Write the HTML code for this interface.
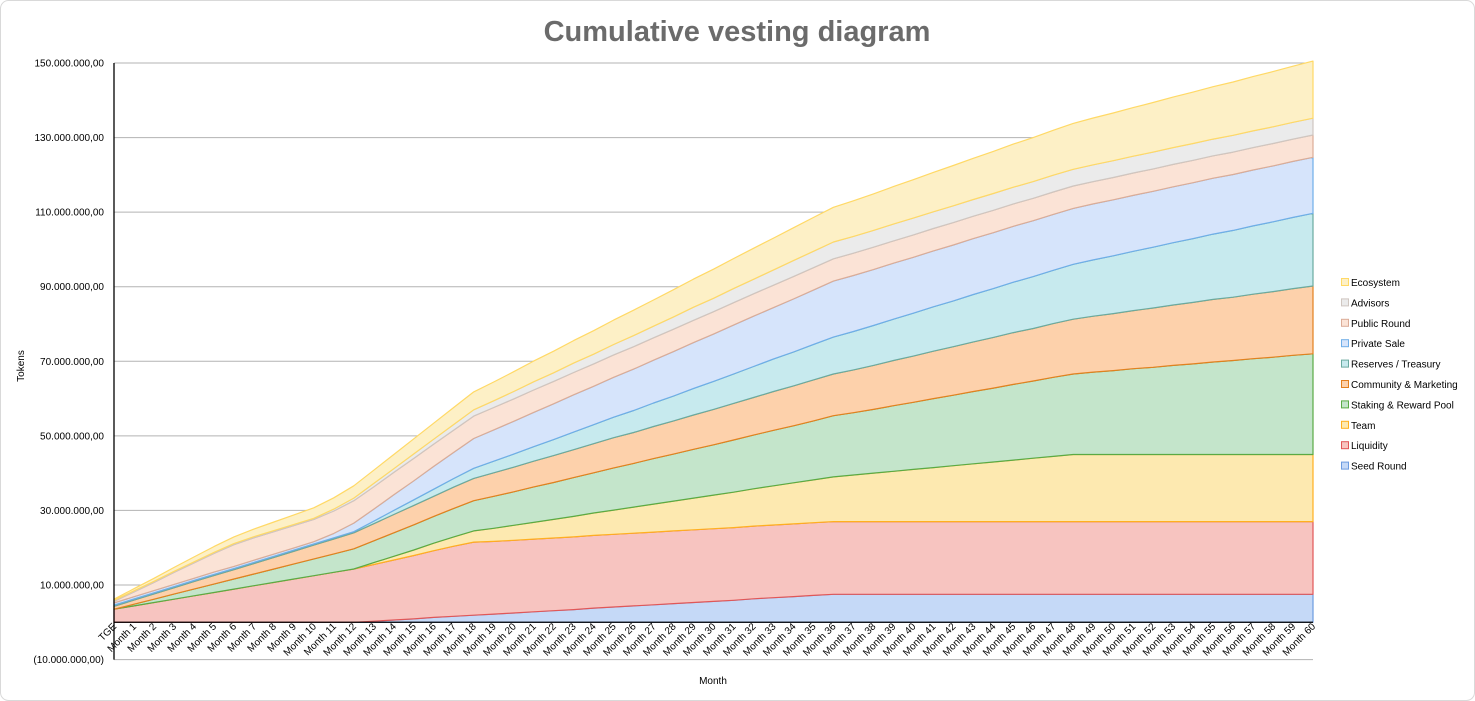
<!DOCTYPE html>
<html><head><meta charset="utf-8"><style>
html,body{margin:0;padding:0;background:#fff;width:1475px;height:701px;overflow:hidden;font-family:"Liberation Sans",sans-serif}
svg text{font-family:"Liberation Sans",sans-serif}
</style></head><body>
<svg id="chart" width="1475" height="701" xmlns="http://www.w3.org/2000/svg">
<rect x="0.5" y="0.5" width="1474" height="700" rx="8" fill="#fff" stroke="#d9d9d9"/>
<text x="737" y="41" text-anchor="middle" font-size="29" font-weight="bold" fill="#6b6b6b">Cumulative vesting diagram</text>
<g id="grid"></g>
<g id="areas"></g>
<g id="axes"></g>
<text transform="translate(24,366) rotate(-90)" text-anchor="middle" font-size="10" fill="#000">Tokens</text>
<text x="713" y="684" text-anchor="middle" font-size="10" fill="#000">Month</text>
<g id="legend"></g>
</svg>
<script>
const seriesNames=["Seed Round","Liquidity","Team","Staking & Reward Pool","Community & Marketing","Reserves / Treasury","Private Sale","Public Round","Advisors","Ecosystem"];
const seed=[0,0,0,0,0,0,0,0,0,0,0,0,0,0.3,0.6,0.9,1.3,1.6,1.9,2.2,2.5,2.8,3.1,3.4,3.8,4.1,4.4,4.7,5.0,5.3,5.6,5.9,6.3,6.6,6.9,7.2,7.5,7.5,7.5,7.5,7.5,7.5,7.5,7.5,7.5,7.5,7.5,7.5,7.5,7.5,7.5,7.5,7.5,7.5,7.5,7.5,7.5,7.5,7.5,7.5,7.5];
const liquidity=[3.5,4.4,5.3,6.2,7.1,8.0,8.9,9.8,10.7,11.6,12.5,13.4,14.3,15.2,16.1,17.0,17.9,18.8,19.6,19.5,19.5,19.5,19.5,19.5,19.5,19.5,19.5,19.5,19.5,19.5,19.5,19.5,19.5,19.5,19.5,19.5,19.5,19.5,19.5,19.5,19.5,19.5,19.5,19.5,19.5,19.5,19.5,19.5,19.5,19.5,19.5,19.5,19.5,19.5,19.5,19.5,19.5,19.5,19.5,19.5,19.5];
const team=[0,0,0,0,0,0,0,0,0,0,0,0,0,0.5,1.0,1.5,2.0,2.5,3.0,3.5,4.0,4.5,5.0,5.5,6.0,6.5,7.0,7.5,8.0,8.5,9.0,9.5,10.0,10.5,11.0,11.5,12.0,12.5,13.0,13.5,14.0,14.5,15.0,15.5,16.0,16.5,17.0,17.5,18.0,18,18,18,18,18,18,18,18,18,18,18,18];
const staking=[0,0.45,0.9,1.35,1.8,2.25,2.7,3.15,3.6,4.05,4.5,4.95,5.4,5.85,6.3,6.75,7.2,7.65,8.1,8.6,9.0,9.5,9.9,10.4,10.8,11.3,11.7,12.2,12.6,13.1,13.5,14.0,14.4,14.9,15.3,15.8,16.4,16.7,17.1,17.6,18.0,18.5,18.9,19.4,19.8,20.3,20.7,21.2,21.6,22.1,22.5,23.0,23.4,23.9,24.3,24.8,25.2,25.7,26.1,26.6,27.0];
const community=[0.8,1.1,1.4,1.7,2.0,2.3,2.5,2.8,3.1,3.4,3.7,4.0,4.3,4.6,4.9,5.2,5.4,5.7,6.0,6.3,6.6,6.9,7.2,7.5,7.8,8.1,8.3,8.6,8.9,9.2,9.5,9.8,10.1,10.4,10.7,11.0,11.2,11.5,11.8,12.1,12.4,12.7,13.0,13.3,13.6,13.9,14.1,14.4,14.7,15.0,15.3,15.6,15.9,16.2,16.5,16.8,17.0,17.3,17.6,17.9,18.2];
const reserves=[0.3,0.3,0.3,0.3,0.3,0.3,0.3,0.3,0.3,0.3,0.3,0.3,0.3,0.7,1.1,1.5,1.9,2.3,2.7,3.1,3.5,3.9,4.3,4.7,5.1,5.5,5.9,6.3,6.7,7.1,7.5,7.9,8.3,8.7,9.1,9.5,9.9,10.3,10.7,11.1,11.5,11.9,12.3,12.7,13.1,13.5,13.9,14.3,14.7,15.1,15.5,15.9,16.3,16.7,17.1,17.5,17.9,18.3,18.7,19.1,19.5];
const privateSale=[0.6,0.6,0.6,0.6,0.6,0.6,0.6,0.6,0.6,0.6,0.6,1.2,2.3,3.2,4.2,5.1,6.1,7.0,8.0,8.4,8.8,9.2,9.6,10.0,10.3,10.7,11.1,11.5,11.9,12.3,12.7,13.1,13.5,13.8,14.2,14.6,15.0,15,15,15,15,15,15,15,15,15,15,15,15,15,15,15,15,15,15,15,15,15,15,15,15];
const publicRound=[0.4,1.3,2.2,3.2,4.1,5.0,5.8,6,6,6,6,6,6,6,6,6,6,6,6,6,6,6,6,6,6,6,6,6,6,6,6,6,6,6,6,6,6,6,6,6,6,6,6,6,6,6,6,6,6,6,6,6,6,6,6,6,6,6,6,6,6];
const advisors=[0.3,0.3,0.3,0.3,0.3,0.3,0.3,0.3,0.3,0.3,0.3,0.5,0.7,0.9,1.0,1.2,1.3,1.5,1.7,1.8,2.0,2.2,2.3,2.5,2.6,2.8,3.0,3.1,3.3,3.5,3.6,3.8,3.9,4.1,4.3,4.4,4.5,4.5,4.5,4.5,4.5,4.5,4.5,4.5,4.5,4.5,4.5,4.5,4.5,4.5,4.5,4.5,4.5,4.5,4.5,4.5,4.5,4.5,4.5,4.5,4.5];
const ecosystem=[0.3,0.55,0.8,1.05,1.3,1.55,1.8,2.05,2.3,2.55,2.8,3.05,3.3,3.55,3.8,4.05,4.3,4.55,4.8,5.05,5.3,5.55,5.8,6.05,6.3,6.55,6.8,7.05,7.3,7.55,7.8,8.05,8.3,8.55,8.8,9.05,9.3,9.55,9.8,10.05,10.3,10.55,10.8,11.05,11.3,11.55,11.8,12.05,12.3,12.55,12.8,13.05,13.3,13.55,13.8,14.05,14.3,14.55,14.8,15.05,15.3];
const yTicks=[-10,10,30,50,70,90,110,130,150];
const yTickLabels=["(10.000.000,00)","10.000.000,00","30.000.000,00","50.000.000,00","70.000.000,00","90.000.000,00","110.000.000,00","130.000.000,00","150.000.000,00"];
const categories=["TGE"];for(let i=1;i<=60;i++)categories.push("Month "+i);

const series=[seed,liquidity,team,staking,community,reserves,privateSale,publicRound,advisors,ecosystem];
const fills=["#c5d9f7","#f7c4c0","#fde9b0","#c4e5cb","#fdd1ab","#c7eaee","#d6e4fb","#fbe3d6","#ebebeb","#fdf0c6"];
const strokes=["#6c9be0","#e15757","#ffb020","#5aaa45","#e3801f","#6aaaa0","#6faee8","#dbac97","#cfc6c0","#ffd966"];
const slugs=["seed-round","liquidity","team","staking-reward-pool","community-marketing","reserves-treasury","private-sale","public-round","advisors","ecosystem"];
const NS="http://www.w3.org/2000/svg";
const X0=114,X1=1313,Y150=63,Y10=585;
const xs=i=>X0+(X1-X0)*i/(categories.length-1);
const ys=v=>Y10-(v-10)*(Y10-Y150)/140;
const grid=document.getElementById('grid'),axes=document.getElementById('axes'),areas=document.getElementById('areas'),legend=document.getElementById('legend');
function mk(tag,attrs,parent){const e=document.createElementNS(NS,tag);for(const k in attrs)e.setAttribute(k,attrs[k]);parent.appendChild(e);return e;}
yTicks.forEach((t,i)=>{
  const l=mk('line',{x1:X0,x2:X1,y1:ys(t),y2:ys(t),stroke:'#b3b3b3','stroke-width':1},grid);
  
  
  const tx=mk('text',{x:104,y:ys(t)+3.5,'text-anchor':'end','font-size':10,fill:'#000'},axes);
  tx.textContent=yTickLabels[i];
  
  
});
// stacked areas
let base=new Array(categories.length).fill(0);
series.forEach((s,k)=>{
  const top=s.map((v,i)=>base[i]+v);
  let pts=[];
  for(let i=0;i<top.length;i++)pts.push(xs(i).toFixed(1)+','+ys(top[i]).toFixed(1));
  let bpts=[];
  for(let i=top.length-1;i>=0;i--)bpts.push(xs(i).toFixed(1)+','+ys(base[i]).toFixed(1));
  const p=mk('polygon',{points:pts.concat(bpts).join(' '),fill:fills[k],stroke:strokes[k],'stroke-width':1.2,'stroke-linejoin':'round'},areas);
  
  
  base=top;
});
// axes lines
const ax=mk('line',{x1:X0,x2:X1,y1:ys(0),y2:ys(0),stroke:'#000','stroke-width':1.3},axes);


const ay=mk('line',{x1:X0,x2:X0,y1:Y150,y2:ys(-10),stroke:'#000','stroke-width':1.3},axes);


categories.forEach((c,i)=>{
  const x=xs(i)+3,y=627;
  const t=mk('text',{x:x,y:y,'text-anchor':'end','font-size':10,fill:'#000',transform:`rotate(-45 ${x} ${y})`},axes);
  t.textContent=c;
  
  
});
// legend (top = Ecosystem)
for(let k=series.length-1,r=0;k>=0;k--,r++){
  const y=283+r*20.4;
  const g=mk('g',{},legend);
  
  
  mk('rect',{x:1341.5,y:y-4.5,width:7,height:7,fill:fills[k],stroke:strokes[k],'stroke-width':1},g);
  const t=mk('text',{x:1351,y:y+3,'font-size':10,fill:'#000'},g);
  t.textContent=seriesNames[k];
}
</script>
</body></html>
